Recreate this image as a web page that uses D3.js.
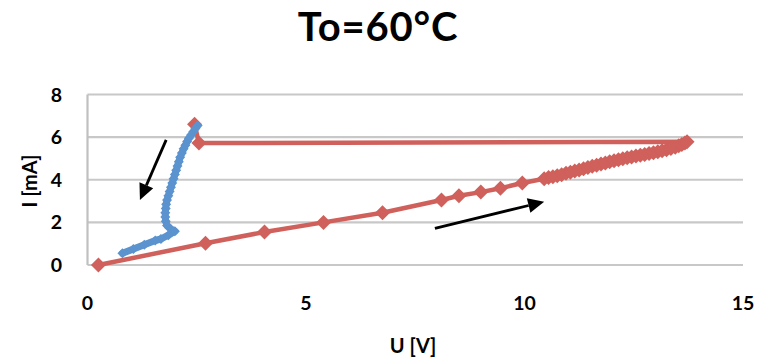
<!DOCTYPE html>
<html><head><meta charset="utf-8">
<script src="https://cdn.jsdelivr.net/npm/d3@7"></script>
<style>body{margin:0;background:#fff}svg{display:block}text{font-family:Lato,"Open Sans",sans-serif;font-weight:700;fill:#000}</style>
</head><body><svg id="c" width="759" height="362"></svg>
<script>
const title = "To=60°C";
const xLabel = "U [V]";
const yLabel = "I [mA]";
const xTicks = [0, 5, 10, 15];
const yTicks = [0, 2, 4, 6, 8];
// Red series (forward sweep then return)
const redU = [0.25, 2.7, 4.05, 5.4, 6.75, 8.1, 8.5, 9.0, 9.45, 9.95, 10.45, 10.55, 10.65, 10.75, 10.85, 10.95, 11.05, 11.15, 11.25, 11.35, 11.45, 11.55, 11.65, 11.75, 11.85, 11.95, 12.05, 12.15, 12.25, 12.35, 12.45, 12.55, 12.65, 12.75, 12.85, 12.95, 13.05, 13.15, 13.25, 13.35, 13.45, 13.53, 13.6, 13.67, 13.72, 2.55, 2.45];
const redI = [0.0, 1.02, 1.55, 2.0, 2.45, 3.05, 3.25, 3.42, 3.6, 3.85, 4.05, 4.1, 4.14, 4.19, 4.24, 4.3, 4.35, 4.41, 4.46, 4.52, 4.57, 4.63, 4.68, 4.74, 4.79, 4.84, 4.89, 4.94, 4.98, 5.03, 5.07, 5.11, 5.15, 5.19, 5.23, 5.27, 5.31, 5.36, 5.41, 5.47, 5.53, 5.59, 5.65, 5.72, 5.78, 5.72, 6.6];
// Blue series
const blueU = [2.52, 2.47, 2.42, 2.37, 2.32, 2.28, 2.24, 2.2, 2.16, 2.12, 2.09, 2.06, 2.03, 2.0, 1.97, 1.94, 1.91, 1.88, 1.85, 1.82, 1.8, 1.79, 1.78, 1.78, 1.79, 1.82, 1.9, 2.0, 1.85, 1.68, 1.55, 1.3, 1.05, 0.8];
const blueI = [6.55, 6.4, 6.25, 6.1, 5.95, 5.8, 5.62, 5.45, 5.25, 5.05, 4.85, 4.65, 4.45, 4.25, 4.05, 3.85, 3.65, 3.45, 3.25, 3.05, 2.85, 2.65, 2.45, 2.25, 2.05, 1.85, 1.7, 1.58, 1.4, 1.22, 1.15, 0.95, 0.75, 0.55];
// Arrows (data units): [u0, i0, u1, i1]
const arrows = [[1.8, 5.87, 1.2, 3.05], [7.95, 1.72, 10.45, 2.97]];

const svg = d3.select("#c");
const x = d3.scaleLinear().domain([0, 15]).range([87.5, 743]);
const y = d3.scaleLinear().domain([0, 8]).range([265, 94.5]);

svg.append("g").selectAll("line").data(yTicks).join("line")
  .attr("x1", x(0)).attr("x2", x(15)).attr("y1", d => y(d)).attr("y2", d => y(d))
  .attr("stroke", "#c8c8c8").attr("stroke-width", 2.2);
svg.append("line").attr("x1", x(0)).attr("x2", x(0)).attr("y1", y(8)).attr("y2", y(0))
  .attr("stroke", "#c0c0c0").attr("stroke-width", 2.2);

svg.append("g").selectAll("text").data(yTicks).join("text")
  .attr("x", 62).attr("y", d => y(d)).attr("dy", "0.36em").attr("text-anchor", "end")
  .attr("font-size", 19.5).text(d => d);
svg.append("g").selectAll("text").data(xTicks).join("text")
  .attr("x", d => x(d)).attr("y", 310).attr("text-anchor", "middle")
  .attr("font-size", 19.5).text(d => d);

svg.append("text").attr("x", 378).attr("y", 41).attr("text-anchor", "middle").attr("font-size", 40).attr("letter-spacing", 0.8).text(title);
svg.append("text").attr("x", 413).attr("y", 353).attr("text-anchor", "middle").attr("font-size", 20).text(xLabel);
svg.append("text").attr("transform", "translate(37,181) rotate(-90)").attr("text-anchor", "middle").attr("font-size", 20).text(yLabel);

const diamond = (s) => `M0,${-s}L${s},0L0,${s}L${-s},0Z`;
const line = d3.line().x(d => x(d[0])).y(d => y(d[1]));

const red = redU.map((u, i) => [u, redI[i]]);
const blue = blueU.map((u, i) => [u, blueI[i]]);
const redC = "#d0605b", blueC = "#5b93cf";

svg.append("path").datum(red).attr("d", line).attr("fill", "none").attr("stroke", redC).attr("stroke-width", 4.5).attr("stroke-linejoin", "round");
svg.append("g").selectAll("path").data(red).join("path")
  .attr("transform", d => `translate(${x(d[0])},${y(d[1])})`).attr("d", diamond(7.5)).attr("fill", redC);

svg.append("path").datum(blue).attr("d", line).attr("fill", "none").attr("stroke", blueC).attr("stroke-width", 7).attr("stroke-linejoin", "round").attr("stroke-linecap", "round");
svg.append("g").selectAll("path").data(blue).join("path")
  .attr("transform", d => `translate(${x(d[0])},${y(d[1])})`).attr("d", diamond(5)).attr("fill", blueC);

arrows.forEach(a => {
  const x0 = x(a[0]), y0 = y(a[1]), x1 = x(a[2]), y1 = y(a[3]);
  const ang = Math.atan2(y1 - y0, x1 - x0);
  const L = 16, W = 7.5;
  const bx = x1 - L * Math.cos(ang), by = y1 - L * Math.sin(ang);
  svg.append("line").attr("x1", x0).attr("y1", y0).attr("x2", bx).attr("y2", by).attr("stroke", "#000").attr("stroke-width", 2.8);
  const px = -Math.sin(ang) * W, py = Math.cos(ang) * W;
  svg.append("path").attr("d", `M${x1},${y1}L${bx + px},${by + py}L${bx - px},${by - py}Z`).attr("fill", "#000");
});
</script></body></html>
